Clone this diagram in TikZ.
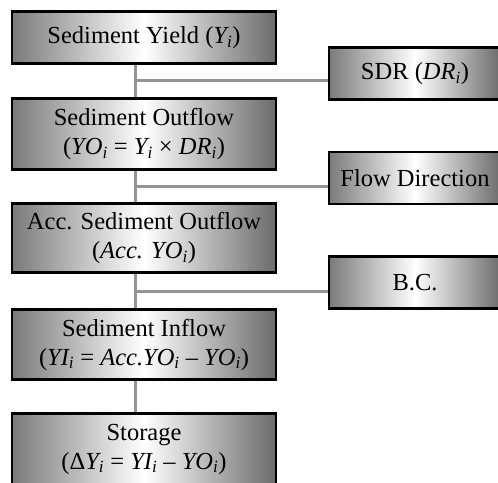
\documentclass[tikz,border=0pt]{standalone}
\usepackage{fontspec}
\setmainfont{Liberation Serif}
\begin{document}
\begin{tikzpicture}[x=1pt,y=-1pt,
  box/.style={draw=black,line width=2.4pt,rectangle,inner sep=0pt,
    left color=black!52,right color=black!58,middle color=white,
    minimum width=264pt,align=center,font=\fontsize{24.5}{29}\selectfont},
  sbox/.style={box,minimum width=172pt,minimum height=52pt},
  conn/.style={draw=black!42,line width=3pt}]
\useasboundingbox (0,0) rectangle (498,482);
\node[box,minimum height=52pt] (b1) at (144,37.5) {Sediment Yield (\textit{Y\textsubscript{i}})};
\node[box,minimum height=71pt] (b2) at (144,134) {Sediment Outflow\\(\textit{YO\textsubscript{i}} = \textit{Y\textsubscript{i}} × \textit{DR\textsubscript{i}})};
\node[box,minimum height=69pt] (b3) at (144,238) {Acc. Sediment Outflow\\(\textit{Acc. YO\textsubscript{i}})};
\node[box,minimum height=70pt] (b4) at (144,344.5) {Sediment Inflow\\(\textit{YI\textsubscript{i}} = \textit{Acc.YO\textsubscript{i}} – \textit{YO\textsubscript{i}})};
\node[box,minimum height=71pt] (b5) at (144,449) {Storage\\(Δ\textit{Y\textsubscript{i}} = \textit{YI\textsubscript{i}} – \textit{YO\textsubscript{i}})};
\node[sbox] (sdr) at (415,73.5) {SDR (\textit{DR\textsubscript{i}})};
\node[sbox] (fd) at (415,178) {Flow Direction};
\node[sbox] (bc) at (415,282.5) {B.C.};
\coordinate (j1) at (135,80);
\coordinate (j2) at (135,186);
\coordinate (j3) at (135,291);
\path[conn] (j1 |- b1.south) -- (j1 |- b2.north);
\path[conn] (j2 |- b2.south) -- (j2 |- b3.north);
\path[conn] (j3 |- b3.south) -- (j3 |- b4.north);
\path[conn] (j3 |- b4.south) -- (j3 |- b5.north);
\path[conn] (j1) -- (j1 -| sdr.west);
\path[conn] (j2) -- (j2 -| fd.west);
\path[conn] (j3) -- (j3 -| bc.west);
\end{tikzpicture}
\end{document}
